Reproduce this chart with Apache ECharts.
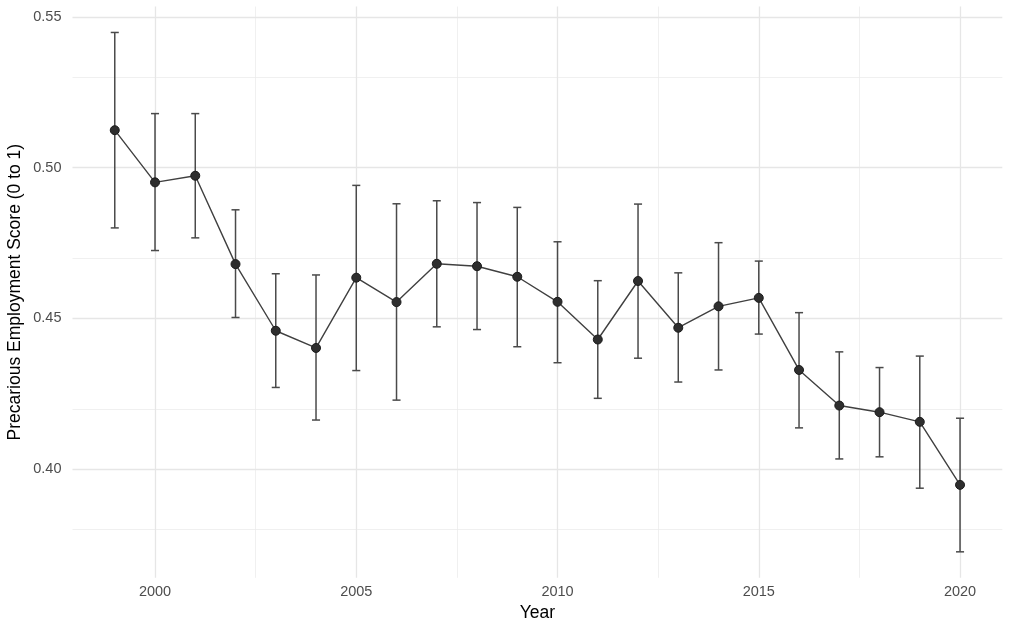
<!DOCTYPE html>
<html>
<head>
<meta charset="utf-8">
<script src="https://cdn.jsdelivr.net/npm/echarts@6/dist/echarts.min.js"></script>
<style>
html,body{margin:0;padding:0;background:#fff;}
#chart{width:1013px;height:626px;}
</style>
</head>
<body>
<div id="chart"></div>
<script>
const years = [1999,2000,2001,2002,2003,2004,2005,2006,2007,2008,2009,2010,2011,2012,2013,2014,2015,2016,2017,2018,2019,2020];
const means = [0.5124,0.4951,0.4973,0.4680,0.4459,0.4402,0.4635,0.4554,0.4681,0.4673,0.4638,0.4555,0.4430,0.4624,0.4469,0.4540,0.4568,0.4329,0.4211,0.4189,0.4157,0.3948];
const uppers = [0.5448,0.5179,0.5179,0.4860,0.4648,0.4644,0.4941,0.4880,0.4890,0.4884,0.4868,0.4754,0.4625,0.4879,0.4651,0.4751,0.4690,0.4519,0.4389,0.4337,0.4375,0.4169];
const lowers = [0.4800,0.4725,0.4767,0.4503,0.4271,0.4163,0.4327,0.4229,0.4472,0.4463,0.4406,0.4353,0.4235,0.4368,0.4289,0.4329,0.4448,0.4137,0.4034,0.4041,0.3937,0.3726];
const xTickLabels = [2000,2005,2010,2015,2020];
const xMinorTicks = [2002.5,2007.5,2012.5,2017.5];
const yTickLabels = [0.40,0.45,0.50,0.55];
const yMinorTicks = [0.375,0.425,0.475,0.525];
const xLabel = 'Year';
const yLabel = 'Precarious Employment Score (0 to 1)';

// ggplot-like 5% expansion
const xMin = years[0] - 0.05*(years[years.length-1]-years[0]);
const xMax = years[years.length-1] + 0.05*(years[years.length-1]-years[0]);
const yLo = Math.min(...lowers), yHi = Math.max(...uppers);
const yMin = yLo - 0.05*(yHi-yLo), yMax = yHi + 0.05*(yHi-yLo);

const chart = echarts.init(document.getElementById('chart'), null, {renderer:'canvas'});

function gridLines(arr, axisKey, color, width){
  return arr.map(v => ({[axisKey]: v, lineStyle:{color:color, width:width, type:'solid'}}));
}

const lineData = years.map((y,i)=>[y, means[i]]);
const errData = years.map((y,i)=>[y, lowers[i], uppers[i]]);

chart.setOption({
  animation:false,
  grid:{left:72.5, right:10.7, top:6.5, bottom:48.2, containLabel:false, outerBoundsMode:'none'},
  xAxis:{
    type:'value', min:xMin, max:xMax,
    name:xLabel, nameLocation:'middle', nameGap:26, nameMoveOverlap:false,
    nameTextStyle:{fontFamily:'Liberation Sans', fontSize:17.5, color:'#000'},
    axisLine:{show:false}, axisTick:{show:false}, splitLine:{show:false},
    axisLabel:{customValues:xTickLabels, fontFamily:'Liberation Sans', fontSize:14.5, color:'#4d4d4d', margin:7,
      formatter:v=>String(Math.round(v))}
  },
  yAxis:{
    type:'value', min:yMin, max:yMax,
    name:yLabel, nameLocation:'middle', nameGap:48, nameMoveOverlap:false,
    nameTextStyle:{fontFamily:'Liberation Sans', fontSize:17.5, color:'#000'},
    axisLine:{show:false}, axisTick:{show:false}, splitLine:{show:false},
    axisLabel:{customValues:yTickLabels, fontFamily:'Liberation Sans', fontSize:14.5, color:'#4d4d4d', margin:11,
      formatter:v=>v.toFixed(2)}
  },
  series:[
    {
      type:'line', data:[], silent:true, z:0,
      markLine:{
        silent:true, symbol:'none', z:0, animation:false,
        label:{show:false},
        emphasis:{disabled:true},
        data:[].concat(
          gridLines(xMinorTicks,'xAxis','#ececec',0.8),
          gridLines(yMinorTicks,'yAxis','#ececec',0.8),
          gridLines(xTickLabels,'xAxis','#e6e6e6',1.3),
          gridLines(yTickLabels,'yAxis','#e6e6e6',1.3)
        )
      }
    },
    {
      type:'custom', data:errData, z:3,
      encode:{x:0, y:[1,2]},
      renderItem:function(params, api){
        const x = api.value(0);
        const lo = api.coord([x, api.value(1)]);
        const hi = api.coord([x, api.value(2)]);
        const l = api.coord([x-0.1, api.value(1)])[0];
        const r = api.coord([x+0.1, api.value(1)])[0];
        const st = {stroke:'#4a4a4a', lineWidth:1.5};
        return {type:'group', children:[
          {type:'line', shape:{x1:lo[0], y1:lo[1], x2:hi[0], y2:hi[1]}, style:st},
          {type:'line', shape:{x1:l, y1:lo[1], x2:r, y2:lo[1]}, style:st},
          {type:'line', shape:{x1:l, y1:hi[1], x2:r, y2:hi[1]}, style:st}
        ]};
      }
    },
    {
      type:'line', data:lineData, z:4,
      lineStyle:{color:'#404040', width:1.4},
      symbol:'circle', symbolSize:9,
      itemStyle:{color:'#2e2e2e', borderColor:'#1a1a1a', borderWidth:1},
      emphasis:{disabled:true}
    }
  ]
});
</script>
</body>
</html>
